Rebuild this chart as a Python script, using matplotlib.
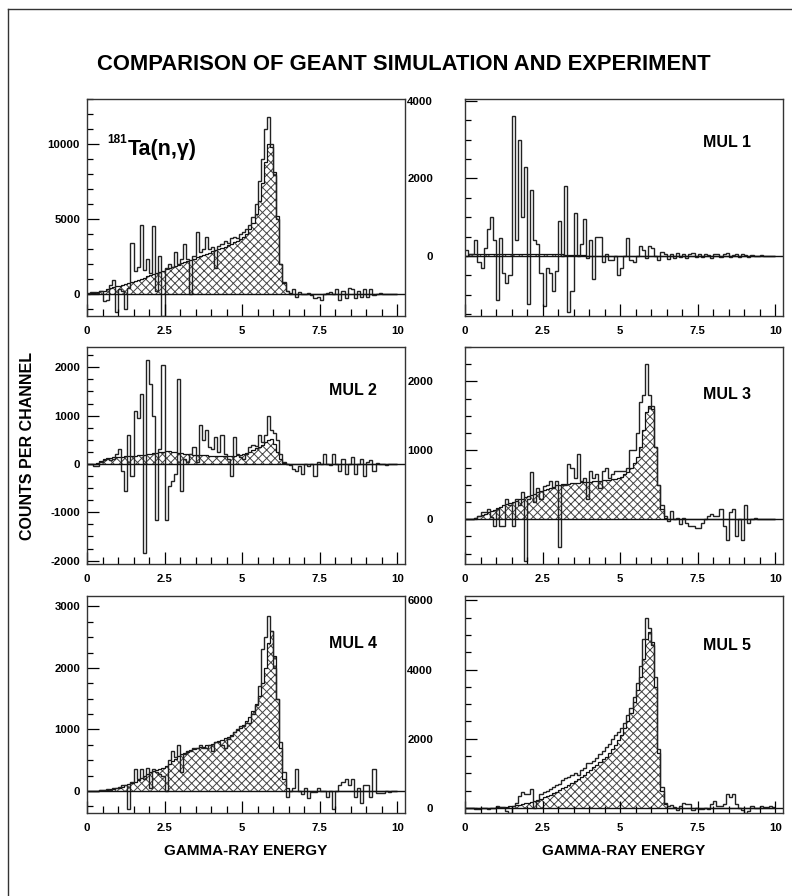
import numpy as np
import matplotlib
matplotlib.use('Agg')
import matplotlib.pyplot as plt
from matplotlib.ticker import MultipleLocator, FuncFormatter
from matplotlib.lines import Line2D

plt.rcParams['font.family'] = ['Liberation Sans', 'DejaVu Sans']
plt.rcParams['font.weight'] = 'bold'
plt.rcParams['hatch.linewidth'] = 0.7

# 100 channels, 0.1 MeV wide, 0 - 10 MeV
edges = np.linspace(0.0, 10.0, 101)

# summed spectrum
sum_exp = [50, 80, 100, 60, 150, -500, -400, 600, 900, -1200,
           300, 200, -1000, 400, 3400, 1500, 1800, 4600, 1600, 2300,
           1400, 4500, 200, 2500, -1500, 1700, 2000, 1800, 2800, 2000,
           2300, 3300, 2300, 0, 2500, 4100, 2800, 3000, 3800, 3000,
           3100, 1700, 3200, 3300, 3500, 3400, 3700, 3800, 3700, 4000,
           4100, 4300, 4600, 5100, 6000, 7500, 9000, 11000, 11800, 10000,
           7900, 5000, 2000, 800, 150, -50, 300, -200, 100, 0,
           0, 50, -100, -300, -200, -400, 0, 50, 100, 0,
           300, -400, 200, -300, 400, 300, -300, 200, -200, 300,
           -200, 300, -100, 0, 50, 0, 0, 0, 0, 0]
sum_sim = [0, 20, 50, 100, 150, 200, 280, 350, 420, 480,
           520, 580, 640, 700, 760, 820, 900, 980, 1060, 1140,
           1220, 1300, 1380, 1460, 1540, 1620, 1700, 1780, 1860, 1940,
           2020, 2100, 2180, 2260, 2340, 2420, 2500, 2580, 2660, 2740,
           2820, 2900, 2980, 3060, 3140, 3220, 3320, 3420, 3540, 3660,
           3800, 4000, 4300, 4700, 5300, 6200, 7400, 8800, 10000, 9800,
           8100, 5200, 2000, 700, 150, 20, 0, 0, 0, 0,
           0, 0, 0, 0, 0, 0, 0, 0, 0, 0,
           0, 0, 0, 0, 0, 0, 0, 0, 0, 0,
           0, 0, 0, 0, 0, 0, 0, 0, 0, 0]

# multiplicity 1
mul1_exp = [150, 50, 50, 400, -150, -300, 200, 700, 1000, 400,
            -1150, 450, -450, -700, -500, 3600, 400, 3000, 1000, 2300,
            -1250, 1700, 400, 300, -450, -1300, -300, -450, -900, -400,
            900, 0, 1800, -1450, -900, 1100, 0, 300, 950, -50,
            400, -600, 500, 500, -150, 50, -100, -100, 0, -500,
            -300, 0, 450, -100, -150, 0, 250, 150, -50, 250,
            200, 0, -100, 100, 50, -80, 60, -50, 80, -30,
            50, -60, 40, 80, -40, 60, -30, 50, 30, -50,
            40, 60, -30, 50, 70, -40, 30, 60, -20, 40,
            20, -20, 30, 10, 0, 20, 10, 0, 10, 0]
mul1_sim = [0, 40, 50, 50, 50, 50, 50, 50, 50, 50,
            50, 50, 50, 50, 50, 50, 50, 50, 50, 50,
            50, 50, 50, 50, 50, 50, 50, 50, 50, 50,
            40, 40, 30, 30, 30, 20, 20, 20, 20, 10,
            10, 10, 10, 10, 10, 10, 5, 5, 5, 5,
            0, 0, 0, 0, 0, 0, 0, 0, 0, 0,
            0, 0, 0, 0, 0, 0, 0, 0, 0, 0,
            0, 0, 0, 0, 0, 0, 0, 0, 0, 0,
            0, 0, 0, 0, 0, 0, 0, 0, 0, 0,
            0, 0, 0, 0, 0, 0, 0, 0, 0, 0]

# multiplicity 2
mul2_exp = [0, 0, -50, -50, 50, 80, 100, 80, 100, 200,
            300, -150, -550, 600, -250, 1100, 950, 1450, -1850, 2150,
            1650, 1000, -1150, 300, 2050, -1150, -450, -350, -200, 1750,
            -550, 100, 50, 200, 350, 50, 800, 500, 700, 350,
            300, 550, 250, 600, 200, 100, -250, 550, 200, 150,
            100, 200, 350, 400, 380, 600, 450, 600, 1000, 700,
            650, 500, 200, 50, 0, -30, -100, -150, -50, -200,
            0, -50, 0, -250, 50, 0, 200, 0, -30, 200,
            0, -150, 100, -200, 0, 150, -200, 0, 100, -250,
            50, 80, -150, 30, 0, 0, -20, 0, 0, 0]
mul2_sim = [0, 0, 0, 30, 60, 100, 120, 130, 140, 150,
            150, 150, 160, 160, 170, 170, 180, 180, 190, 200,
            210, 220, 230, 240, 250, 260, 260, 250, 240, 230,
            220, 210, 200, 200, 190, 190, 180, 180, 180, 170,
            170, 170, 170, 170, 170, 170, 170, 170, 180, 190,
            200, 220, 250, 280, 320, 360, 400, 450, 500, 520,
            420, 250, 100, 30, 0, 0, 0, 0, 0, 0,
            0, 0, 0, 0, 0, 0, 0, 0, 0, 0,
            0, 0, 0, 0, 0, 0, 0, 0, 0, 0,
            0, 0, 0, 0, 0, 0, 0, 0, 0, 0]

# multiplicity 3
mul3_exp = [0, 0, 0, 20, 40, 100, 100, 150, 30, -100,
            150, -100, -100, 300, 200, -100, 300, 200, 400, -600,
            300, 680, 250, 450, 300, 480, 500, 560, 450, 550,
            -400, 500, 500, 800, 750, 600, 950, 550, 600, 300,
            700, 600, 650, 450, 700, 750, 600, 650, 700, 700,
            700, 700, 750, 1000, 1000, 1250, 1700, 1800, 2250, 1800,
            1650, 1050, 500, 200, 40, -30, 120, 0, 20, -70,
            20, -50, -100, -100, -130, -130, -50, 0, 50, 80,
            50, 50, 150, -100, -300, 100, 150, -250, 0, -300,
            200, -50, 0, 20, 10, 10, 0, 0, 0, 0]
mul3_sim = [0, 0, 0, 20, 40, 60, 80, 100, 120, 140,
            160, 180, 200, 220, 240, 250, 270, 290, 300, 320,
            330, 350, 370, 390, 410, 420, 440, 460, 470, 490,
            500, 505, 510, 515, 520, 525, 530, 535, 540, 540,
            545, 550, 555, 560, 565, 570, 575, 580, 590, 600,
            620, 650, 690, 740, 810, 900, 1050, 1300, 1550, 1650,
            1600, 1050, 500, 150, 20, 0, 0, 0, 0, 0,
            0, 0, 0, 0, 0, 0, 0, 0, 0, 0,
            0, 0, 0, 0, 0, 0, 0, 0, 0, 0,
            0, 0, 0, 0, 0, 0, 0, 0, 0, 0]

# multiplicity 4
mul4_exp = [0, 0, -10, 0, 10, 20, 30, 20, 40, 50,
            60, 100, 100, -300, 150, 350, 200, 350, 200, 380,
            50, 350, 300, 280, 250, 0, 500, 650, 550, 750,
            300, 600, 650, 650, 700, 700, 750, 700, 700, 750,
            650, 800, 800, 750, 700, 850, 900, 950, 1000, 1050,
            1050, 1100, 1100, 1250, 1400, 1700, 2300, 2500, 2850, 2600,
            2000, 1500, 800, 300, -100, 0, 50, 350, 0, -50,
            50, -120, -20, -20, 50, 0, 0, -100, 0, -300,
            0, 100, 150, 200, 100, 200, -100, 50, -200, 100,
            100, -100, 350, -30, -30, -30, 0, -20, 0, 0]
mul4_sim = [0, 0, 0, 5, 10, 15, 20, 25, 30, 40,
            50, 70, 90, 110, 130, 150, 180, 210, 240, 270,
            300, 320, 340, 360, 380, 400, 440, 480, 520, 560,
            600, 620, 640, 660, 680, 700, 710, 720, 740, 750,
            770, 790, 810, 830, 860, 880, 910, 950, 990, 1030,
            1070, 1130, 1200, 1300, 1420, 1550, 1750, 2000, 2400, 2600,
            2200, 1500, 700, 200, 50, 0, 0, 0, 0, 0,
            0, 0, 0, 0, 0, 0, 0, 0, 0, 0,
            0, 0, 0, 0, 0, 0, 0, 0, 0, 0,
            0, 0, 0, 0, 0, 0, 0, 0, 0, 0]

# multiplicity 5
mul5_exp = [0, 0, 0, -20, -20, 0, 0, -20, 0, 0,
            50, 30, 30, -100, -150, 50, 150, 350, 450, 400,
            400, 550, 0, 200, 400, 450, 500, 550, 600, 650,
            700, 800, 850, 900, 950, 1000, 950, 1100, 1150, 1300,
            1300, 1350, 1450, 1550, 1650, 1750, 1850, 2000, 2100, 2200,
            2300, 2450, 2700, 2900, 3200, 3600, 4100, 4900, 5500, 5200,
            4700, 3800, 1700, 600, 150, 50, 80, 30, -50, 50,
            150, 100, 100, -50, 0, -30, -30, 0, -30, 100,
            200, 50, 50, 100, 400, 300, 400, 100, 0, -50,
            -150, -100, 50, 0, 0, 50, 30, 30, 50, 20]
mul5_sim = [0, 0, 0, 0, 0, 0, 0, 0, 0, 0,
            10, 15, 20, 30, 40, 50, 70, 90, 110, 130,
            150, 170, 200, 230, 260, 300, 340, 380, 420, 460,
            510, 560, 610, 660, 720, 780, 840, 900, 960, 1030,
            1100, 1170, 1240, 1320, 1400, 1480, 1580, 1700, 1830, 1960,
            2100, 2300, 2500, 2750, 3050, 3400, 3800, 4300, 4900, 5100,
            4800, 3500, 1600, 500, 100, 0, 0, 0, 0, 0,
            0, 0, 0, 0, 0, 0, 0, 0, 0, 0,
            0, 0, 0, 0, 0, 0, 0, 0, 0, 0,
            0, 0, 0, 0, 0, 0, 0, 0, 0, 0]

W, H = 792, 896
fig = plt.figure(figsize=(W / 100, H / 100), dpi=100)

# outer frame (left and top edges)
fig.add_artist(Line2D([8 / W, 8 / W], [0, 1 - 9 / H], color='#333', lw=1))
fig.add_artist(Line2D([8 / W, 1], [1 - 9 / H, 1 - 9 / H], color='#333', lw=1))

fig.text(404 / W, 1 - 64 / H, 'COMPARISON OF GEANT SIMULATION AND EXPERIMENT',
         ha='center', va='center', fontsize=15.8, fontweight='bold')
fig.text(28 / W, 1 - 446 / H, 'COUNTS PER CHANNEL', rotation=90,
         ha='center', va='center', fontsize=11.5, fontweight='bold')
for xc in (246, 624):
    fig.text(xc / W, 1 - 851 / H, 'GAMMA-RAY ENERGY', ha='center', va='center',
             fontsize=11, fontweight='bold')

# (exp, sim, ylim, major, minor, label, label position, column, row)
panels = [
    (sum_exp, sum_sim, (-1500, 13000), 5000, 1000, None, None, 0, 0),
    (mul1_exp, mul1_sim, (-1550, 4050), 2000, 500, 'MUL 1', (0.824, 0.80), 1, 0),
    (mul2_exp, mul2_sim, (-2070, 2420), 1000, 250, 'MUL 2', (0.836, 0.80), 0, 1),
    (mul3_exp, mul3_sim, (-650, 2500), 1000, 250, 'MUL 3', (0.824, 0.78), 1, 1),
    (mul4_exp, mul4_sim, (-360, 3170), 1000, 250, 'MUL 4', (0.836, 0.78), 0, 2),
    (mul5_exp, mul5_sim, (-150, 6130), 2000, 500, 'MUL 5', (0.824, 0.77), 1, 2),
]
col_left = [87, 465]
row_bottom = [316, 564, 813]
aw, ah = 318, 217

for exp, sim, ylim, major, minor, label, lpos, col, row in panels:
    ax = fig.add_axes([col_left[col] / W, 1 - row_bottom[row] / H, aw / W, ah / H])
    ax.stairs(sim, edges, fill=True, facecolor='none', edgecolor='#444',
              hatch='xxxx', linewidth=0)
    ax.stairs(sim, edges, baseline=None, color='#111', lw=0.9)
    ax.stairs(exp, edges, baseline=None, color='#222', lw=1.0)
    ax.axhline(0, color='#111', lw=1.0)

    ax.set_xlim(0, 10.25)
    ax.set_ylim(*ylim)
    ax.xaxis.set_major_locator(MultipleLocator(2.5))
    ax.xaxis.set_minor_locator(MultipleLocator(0.5))
    ax.yaxis.set_major_locator(MultipleLocator(major))
    ax.yaxis.set_minor_locator(MultipleLocator(minor))
    ax.xaxis.set_major_formatter(FuncFormatter(lambda v, p: '%g' % v))
    ax.yaxis.set_major_formatter(FuncFormatter(lambda v, p: '%d' % v))
    ypad = 5 if col == 0 else 23
    ax.tick_params(axis='x', which='major', direction='in', length=8.5, width=0.9,
                   pad=7.5, labelsize=8.2)
    ax.tick_params(axis='x', which='minor', direction='in', length=5, width=0.9)
    ax.tick_params(axis='y', which='major', direction='in', length=8.5, width=0.9,
                   pad=ypad, labelsize=8.2)
    ax.tick_params(axis='y', which='minor', direction='in', length=4.5, width=0.9)
    for lab in ax.get_xticklabels() + ax.get_yticklabels():
        lab.set_fontweight('bold')
    for sp in ax.spines.values():
        sp.set_color('#333')
        sp.set_linewidth(1.0)

    if label:
        ax.text(lpos[0], lpos[1], label, transform=ax.transAxes, ha='center',
                va='center', fontsize=11.5, fontweight='bold')
    else:
        ax.text(0.063, 0.81, '181', transform=ax.transAxes, ha='left',
                va='center', fontsize=8.5, fontweight='bold')
        ax.text(0.129, 0.765, 'Ta(n,\u03b3)', transform=ax.transAxes, ha='left',
                va='center', fontsize=15.5, fontweight='bold')

fig.savefig('out.png', dpi=100)
